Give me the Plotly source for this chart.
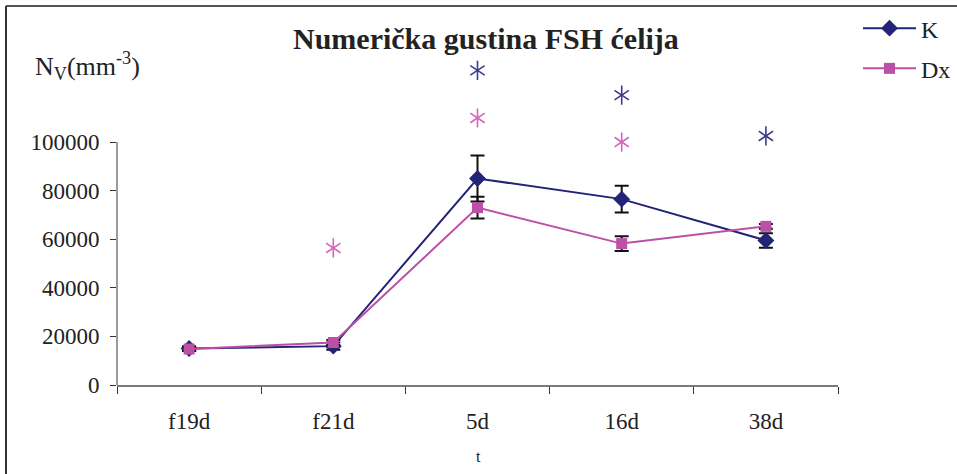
import plotly.graph_objects as go

categories = ["f19d", "f21d", "5d", "16d", "38d"]
k_values = [15000, 16000, 85000, 76500, 59500]
k_errors = [1000, 1500, 9500, 5500, 3000]
dx_values = [14800, 17500, 73000, 58200, 65300]
dx_errors = [800, 1000, 4500, 3000, 1000]

# significance asterisks (position above each group)
k_star_x = ["5d", "16d", "38d"]
k_star_y = [129500, 119300, 102500]
dx_star_x = ["f21d", "5d", "16d"]
dx_star_y = [56400, 109900, 100000]

y_tickvals = [0, 20000, 40000, 60000, 80000, 100000]
y_ticktext = ["0", "20000", "40000", "60000", "80000", "100000"]

title_text = "Numerička gustina FSH ćelija"
ylabel_text = "N<sub>V</sub>(mm<sup>-3</sup>)"
xlabel_text = "t"

K_COLOR = "#232377"
DX_COLOR = "#BC4FA6"
FONT = "Liberation Serif"
Y_MAX = 135000

fig = go.Figure()

fig.add_trace(go.Scatter(
    x=categories, y=k_values, name="K", mode="lines+markers",
    line=dict(color=K_COLOR, width=2),
    marker=dict(symbol="diamond", size=13, color=K_COLOR),
    error_y=dict(type="data", array=k_errors, visible=True, color="#111111", thickness=2, width=7),
    legendgroup="K", cliponaxis=False,
))
fig.add_trace(go.Scatter(
    x=categories, y=dx_values, name="Dx", mode="lines+markers",
    line=dict(color=DX_COLOR, width=2),
    marker=dict(symbol="square", size=11, color=DX_COLOR),
    error_y=dict(type="data", array=dx_errors, visible=True, color="#111111", thickness=2, width=7),
    legendgroup="Dx", cliponaxis=False,
))

for xs, ys, col in [(k_star_x, k_star_y, "#3B3B8F"), (dx_star_x, dx_star_y, "#D467BC")]:
    for sym in ["y-up-open", "y-down-open"]:
        fig.add_trace(go.Scatter(
            x=xs, y=ys, mode="markers", showlegend=False, hoverinfo="skip",
            marker=dict(symbol=sym, size=12, color=col, line=dict(color=col, width=1.6)),
            cliponaxis=False,
        ))

W, H = 957, 474
X0_PX, X1_PX = 117, 838          # reference plot-area horizontal extent
Y0_PX, Y100K_PX = 385, 142       # reference pixel of y=0 and y=100000
px_per_unit = (Y0_PX - Y100K_PX) / 100000
T = Y0_PX - Y_MAX * px_per_unit
L, R, B = X0_PX, W - X1_PX, H - Y0_PX
pw, ph = W - L - R, H - T - B

def px(xp):
    return (xp - L) / pw

def py(yp):
    return (H - B - yp) / ph

fig.update_layout(
    width=W, height=H,
    margin=dict(l=L, r=R, t=T, b=B, autoexpand=False),
    paper_bgcolor="white", plot_bgcolor="white",
    font=dict(family=FONT, size=23, color="#222222"),
    showlegend=True,
    legend=dict(
        x=px(858), y=py(6), xanchor="left", yanchor="top",
        font=dict(family=FONT, size=24, color="#222222"),
        tracegroupgap=6, bgcolor="rgba(0,0,0,0)", itemwidth=53,
    ),
    xaxis=dict(
        type="category", categoryorder="array", categoryarray=categories,
        showgrid=False, zeroline=False,
        showline=True, linecolor="#7a7a7a", linewidth=2,
        ticks="outside", ticklen=7, tickcolor="#333333", tickwidth=1,
        tickson="boundaries", ticklabelstandoff=14,
        tickfont=dict(family=FONT, size=23, color="#222222"),
        range=[-0.5, 4.5],
    ),
    yaxis=dict(
        range=[0, Y_MAX], tickvals=y_tickvals, ticktext=y_ticktext,
        showgrid=False, zeroline=False, showline=False,
        ticks="outside", ticklen=6, tickcolor="#333333", tickwidth=1,
        ticklabelstandoff=6,
        tickfont=dict(family=FONT, size=23, color="#222222"),
    ),
    annotations=[
        dict(text="<b>" + title_text + "</b>", xref="paper", yref="paper",
             x=px(486), y=py(38), xanchor="center", yanchor="middle", showarrow=False,
             font=dict(family=FONT, size=30, color="#222222")),
        dict(text=ylabel_text, xref="paper", yref="paper",
             x=px(87), y=py(66), xanchor="center", yanchor="middle", showarrow=False,
             font=dict(family=FONT, size=26, color="#222222")),
        dict(text=xlabel_text, xref="paper", yref="paper",
             x=px(478), y=py(457), xanchor="center", yanchor="middle", showarrow=False,
             font=dict(family=FONT, size=16, color="#222222")),
    ],
    shapes=[
        # y-axis line up to 100000
        dict(type="line", xref="paper", yref="y", x0=0, x1=0, y0=0, y1=y_tickvals[-1],
             line=dict(color="#7a7a7a", width=1.5)),
        # outer frame (top and left)
        dict(type="line", xref="paper", yref="paper", x0=px(6), x1=px(957), y0=py(6), y1=py(6),
             line=dict(color="#555555", width=2)),
        dict(type="line", xref="paper", yref="paper", x0=px(6), x1=px(6), y0=py(6), y1=py(474),
             line=dict(color="#333333", width=2)),
    ],
)

fig.write_html("out.html", config={"displayModeBar": False},
               post_script="document.body.style.margin='0';")
